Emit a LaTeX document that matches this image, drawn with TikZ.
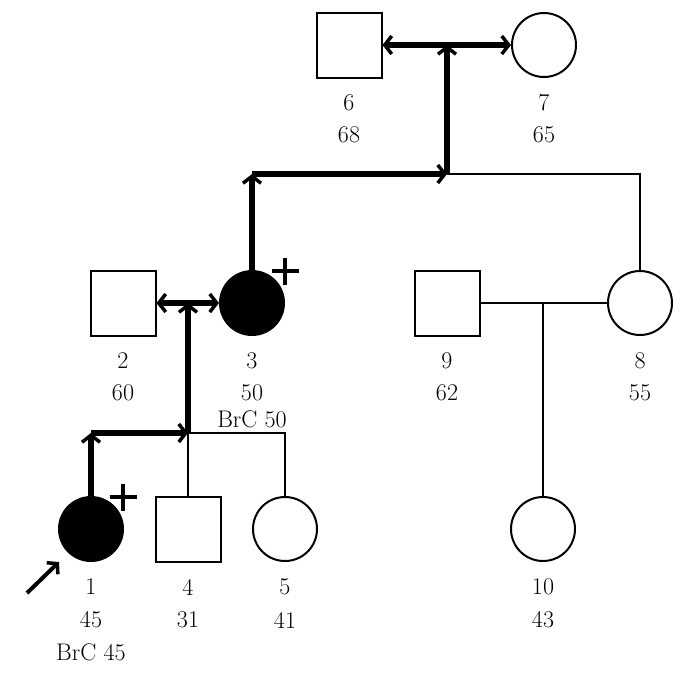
\documentclass[tikz,border=0pt]{standalone}
\usetikzlibrary{arrows.meta}
\begin{document}
\begin{tikzpicture}[x=1pt,y=-1pt,
  person/.style={draw,line width=2pt,inner sep=0pt,fill=white},
  male/.style={person,rectangle,minimum size=65pt},
  female/.style={person,circle,minimum size=64pt},
  affected/.style={fill=black},
  lbl/.style={font=\fontsize{24}{28}\selectfont,inner sep=0pt},
  rel/.style={line width=2pt},
  heavy/.style={line width=5.5pt},
  arr/.tip={Straight Barb[length=7pt,width=18pt,line width=3.5pt]},
  plusmark/.style={line width=4pt},
]
\useasboundingbox (0,0) rectangle (685,681);
% persons
\node[male]   (n6) at (349,45) {};
\node[female] (n7) at (544,45) {};
\node[male]   (n2) at (123,303) {};
\node[female,affected] (n3) at (252,303) {};
\node[male]   (n9) at (447,303) {};
\node[female] (n8) at (640,303) {};
\node[female,affected] (n1) at (91,529) {};
\node[male]   (n4) at (188,529) {};
\node[female] (n5) at (285,529) {};
\node[female] (n10) at (543,529) {};
% junction coordinates
\coordinate (m67) at (447,45);
\coordinate (c67) at (447,174);
\coordinate (c3) at (252,174);
\coordinate (c8) at (640,174);
\coordinate (m23) at (188,303);
\coordinate (c23) at (188,433);
\coordinate (c1) at (91,433);
\coordinate (c5) at (285,433);
\coordinate (m98) at (543,303);
\coordinate (pa) at (27,593);
\coordinate (pb) at (59,562);
% thin lines
\draw[rel] (c67) -- (c8) -- (n8.north);
\draw[rel] (c23) -- (c5) -- (n5.north);
\draw[rel] (c23) -- (n4.north);
\draw[rel] (n9.east) -- (n8.west);
\draw[rel] (m98) -- (n10.north);
% heavy path lines
\draw[heavy,arr-arr] (n6.east) -- (n7.west);
\draw[heavy,-arr] (c67) -- (m67);
\draw[heavy,-arr] (c3) -- (c67);
\draw[heavy,-arr] (n3.north) -- (c3);
\draw[heavy,arr-arr] (n2.east) -- (n3.west);
\draw[heavy,-arr] (c23) -- (m23);
\draw[heavy,-arr] (c1) -- (c23);
\draw[heavy,-arr] (n1.north) -- (c1);
% proband arrow
\draw[line width=4pt,-{Straight Barb[length=7pt,width=16pt,line width=3.5pt]}] (pa) -- (pb);
% plus marks
\coordinate (p3) at (285,271);
\coordinate (p1) at (123,497);
\draw[plusmark] ([xshift=-13.5pt]p3) -- ([xshift=13.5pt]p3);
\draw[plusmark] ([yshift=-13.5pt]p3) -- ([yshift=13.5pt]p3);
\draw[plusmark] ([xshift=-13.5pt]p1) -- ([xshift=13.5pt]p1);
\draw[plusmark] ([yshift=-13.5pt]p1) -- ([yshift=13.5pt]p1);
% labels
\node[lbl] (l6a) at (349,103) {6};
\node[lbl] (l6b) at (349,135) {68};
\node[lbl] (l7a) at (544,103) {7};
\node[lbl] (l7b) at (544,135) {65};
\node[lbl] (l2a) at (123,361) {2};
\node[lbl] (l2b) at (123,393) {60};
\node[lbl] (l3a) at (252,361) {3};
\node[lbl] (l3b) at (252,393) {50};
\node[lbl] (l3c) at (252,419) {BrC 50};
\node[lbl] (l9a) at (447,361) {9};
\node[lbl] (l9b) at (447,393) {62};
\node[lbl] (l8a) at (640,361) {8};
\node[lbl] (l8b) at (640,393) {55};
\node[lbl] (l1a) at (91,587) {1};
\node[lbl] (l1b) at (91,620) {45};
\node[lbl] (l1c) at (91,652) {BrC 45};
\node[lbl] (l4a) at (188,587) {4};
\node[lbl] (l4b) at (188,620) {31};
\node[lbl] (l5a) at (285,587) {5};
\node[lbl] (l5b) at (285,620) {41};
\node[lbl] (l10a) at (543,587) {10};
\node[lbl] (l10b) at (543,620) {43};
\end{tikzpicture}
\end{document}
